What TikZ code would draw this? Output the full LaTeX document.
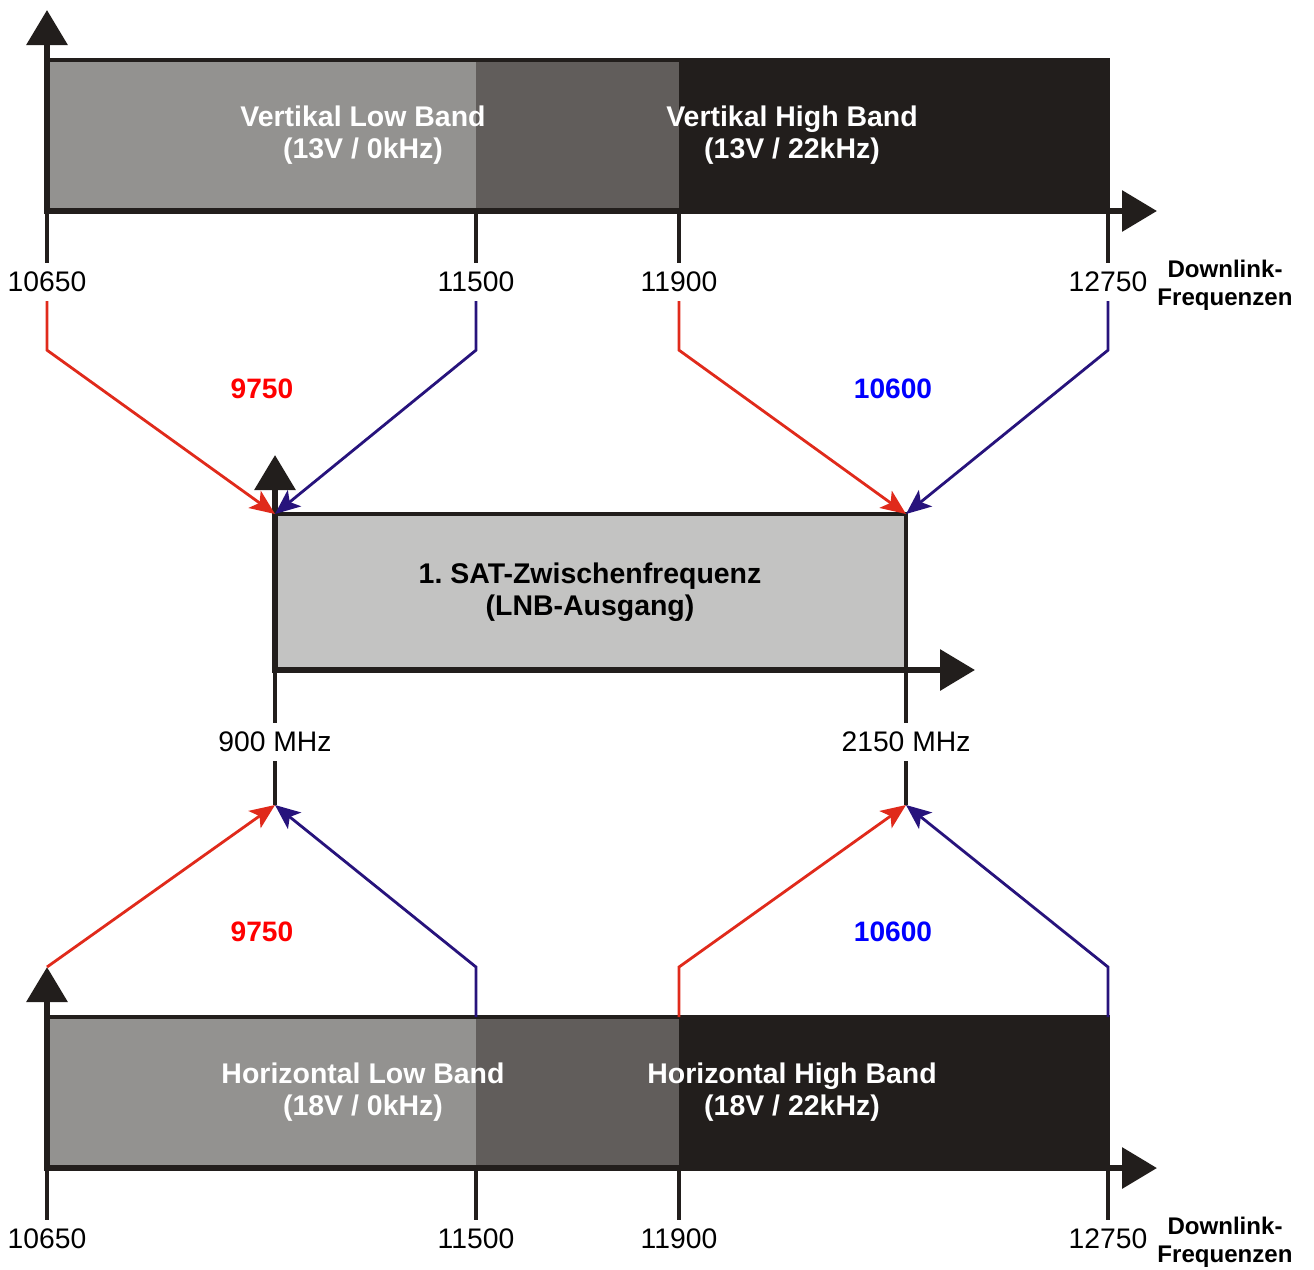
\documentclass[tikz,border=0pt]{standalone}
\usepackage{fontspec}
\setmainfont{Liberation Sans}
\usetikzlibrary{arrows.meta,positioning}
\frenchspacing
\definecolor{lowgray}{HTML}{939290}
\definecolor{midgray}{HTML}{615D5B}
\definecolor{highgray}{HTML}{221E1C}
\definecolor{ifgray}{HTML}{C3C3C2}
\definecolor{lored}{HTML}{E02A1B}
\definecolor{loblue}{HTML}{27137C}
\tikzstyle{axis}=[draw=highgray,
line width=3.6pt,
-{Triangle[length=0.7cm,width=0.8cm]},
]
\tikzstyle{tick}=[draw=highgray,
line width=1.8pt,
]
\tikzstyle{border}=[draw=highgray,
line width=2.2pt,
]
\tikzstyle{freq}=[font=\fontsize{16.1}{18}\selectfont,
inner xsep=1pt,
inner ysep=5pt,
]
\tikzstyle{bandtext}=[font=\fontsize{16.2}{18.3}\selectfont\bfseries,
align=center,
text=white,
]
\tikzstyle{downlink}=[font=\fontsize{13.7}{15.9}\selectfont\bfseries,
align=center,
]
\tikzstyle{lofreq}=[font=\fontsize{16}{18}\selectfont\bfseries]
\tikzstyle{redpath}=[draw=lored,
line width=1.6pt,
-{Stealth[length=0.5cm,width=0.42cm,inset=0.12cm]},
]
\tikzstyle{bluepath}=[draw=loblue,
line width=1.6pt,
-{Stealth[length=0.5cm,width=0.42cm,inset=0.12cm]},
]

\begin{document}
\begin{tikzpicture}[x=0.02cm, y=-0.02cm]
        \useasboundingbox (0,0) rectangle (1314,1269);

        % vertikal band
        \fill[lowgray] (47,60) rectangle (476,211);
        \fill[midgray] (476,60) rectangle (679,211);
        \fill[highgray] (679,60) rectangle (1108,211);
        \draw[border] (47,60) -- (1108,60) -- (1108,211);
        \coordinate (v_origin) at (47,211);
        \draw[axis] (47,214) -- (47,10);
        \draw[axis] (44,211) -- (1157,211);
        \node[bandtext] (v_low) at (363,135) {Vertikal Low Band\\(13V / 0kHz)};
        \node[bandtext] (v_high) at (792,135) {Vertikal High Band\\(13V / 22kHz)};
        \node[freq] (v_10650) at (47,282) {10650};
        \node[freq] (v_11500) at (476,282) {11500};
        \node[freq] (v_11900) at (679,282) {11900};
        \node[freq] (v_12750) at (1108,282) {12750};
        \node[downlink] (v_downlink) at (1225,285) {Downlink-\\Frequenzen};
        \draw[tick] (v_origin) -- (v_10650.north);
        \draw[tick] (476,211) -- (v_11500.north);
        \draw[tick] (679,211) -- (v_11900.north);
        \draw[tick] (1108,211) -- (v_12750.north);

        % zwischenfrequenz
        \fill[ifgray] (275,514) rectangle (906,670);
        \draw[border] (275,514) -- (906,514) -- (906,670);
        \coordinate (if_top_left) at (275,514);
        \coordinate (if_top_right) at (906,514);
        \draw[axis] (275,673) -- (275,455);
        \draw[axis] (272,670) -- (975,670);
        \node[font=\fontsize{16.2}{18.3}\selectfont\bfseries, align=center] (if_text) at (590,592) {1. SAT-Zwischenfrequenz\\(LNB-Ausgang)};
        \node[freq] (if_900) at (275,742) {900 MHz};
        \node[freq] (if_2150) at (906,742) {2150 MHz};
        \coordinate (if_bottom_left) at (275,805);
        \coordinate (if_bottom_right) at (906,805);
        \draw[tick] (275,670) -- (if_900.north) (if_900.south) -- (if_bottom_left);
        \draw[tick] (906,670) -- (if_2150.north) (if_2150.south) -- (if_bottom_right);

        % horizontal band
        \fill[lowgray] (47,1017) rectangle (476,1168);
        \fill[midgray] (476,1017) rectangle (679,1168);
        \fill[highgray] (679,1017) rectangle (1108,1168);
        \draw[border] (47,1017) -- (1108,1017) -- (1108,1168);
        \coordinate (h_origin) at (47,1168);
        \coordinate (h_tip) at (47,967);
        \draw[axis] (47,1171) -- (h_tip);
        \draw[axis] (44,1168) -- (1157,1168);
        \node[bandtext] (h_low) at (363,1092) {Horizontal Low Band\\(18V / 0kHz)};
        \node[bandtext] (h_high) at (792,1092) {Horizontal High Band\\(18V / 22kHz)};
        \node[freq] (h_10650) at (47,1239) {10650};
        \node[freq] (h_11500) at (476,1239) {11500};
        \node[freq] (h_11900) at (679,1239) {11900};
        \node[freq] (h_12750) at (1108,1239) {12750};
        \node[downlink] (h_downlink) at (1225,1242) {Downlink-\\Frequenzen};
        \draw[tick] (h_origin) -- (h_10650.north);
        \draw[tick] (476,1168) -- (h_11500.north);
        \draw[tick] (679,1168) -- (h_11900.north);
        \draw[tick] (1108,1168) -- (h_12750.north);

        % oszillator
        \node[lofreq, text=red] (v_lo_low) at (262,389) {9750};
        \node[lofreq, text=blue] (v_lo_high) at (893,389) {10600};
        \node[lofreq, text=red] (h_lo_low) at (262,932) {9750};
        \node[lofreq, text=blue] (h_lo_high) at (893,932) {10600};

        \draw[redpath] (v_10650.south) -- ++(0,49) -- (if_top_left);
        \draw[bluepath] (v_11500.south) -- ++(0,49) -- (if_top_left);
        \draw[redpath] (v_11900.south) -- ++(0,49) -- (if_top_right);
        \draw[bluepath] (v_12750.south) -- ++(0,49) -- (if_top_right);
        \draw[redpath] (h_tip) -- (if_bottom_left);
        \draw[bluepath] (476,1017) -- (476,967) -- (if_bottom_left);
        \draw[redpath] (679,1017) -- (679,967) -- (if_bottom_right);
        \draw[bluepath] (1108,1017) -- (1108,967) -- (if_bottom_right);
    \end{tikzpicture}
\end{document}
